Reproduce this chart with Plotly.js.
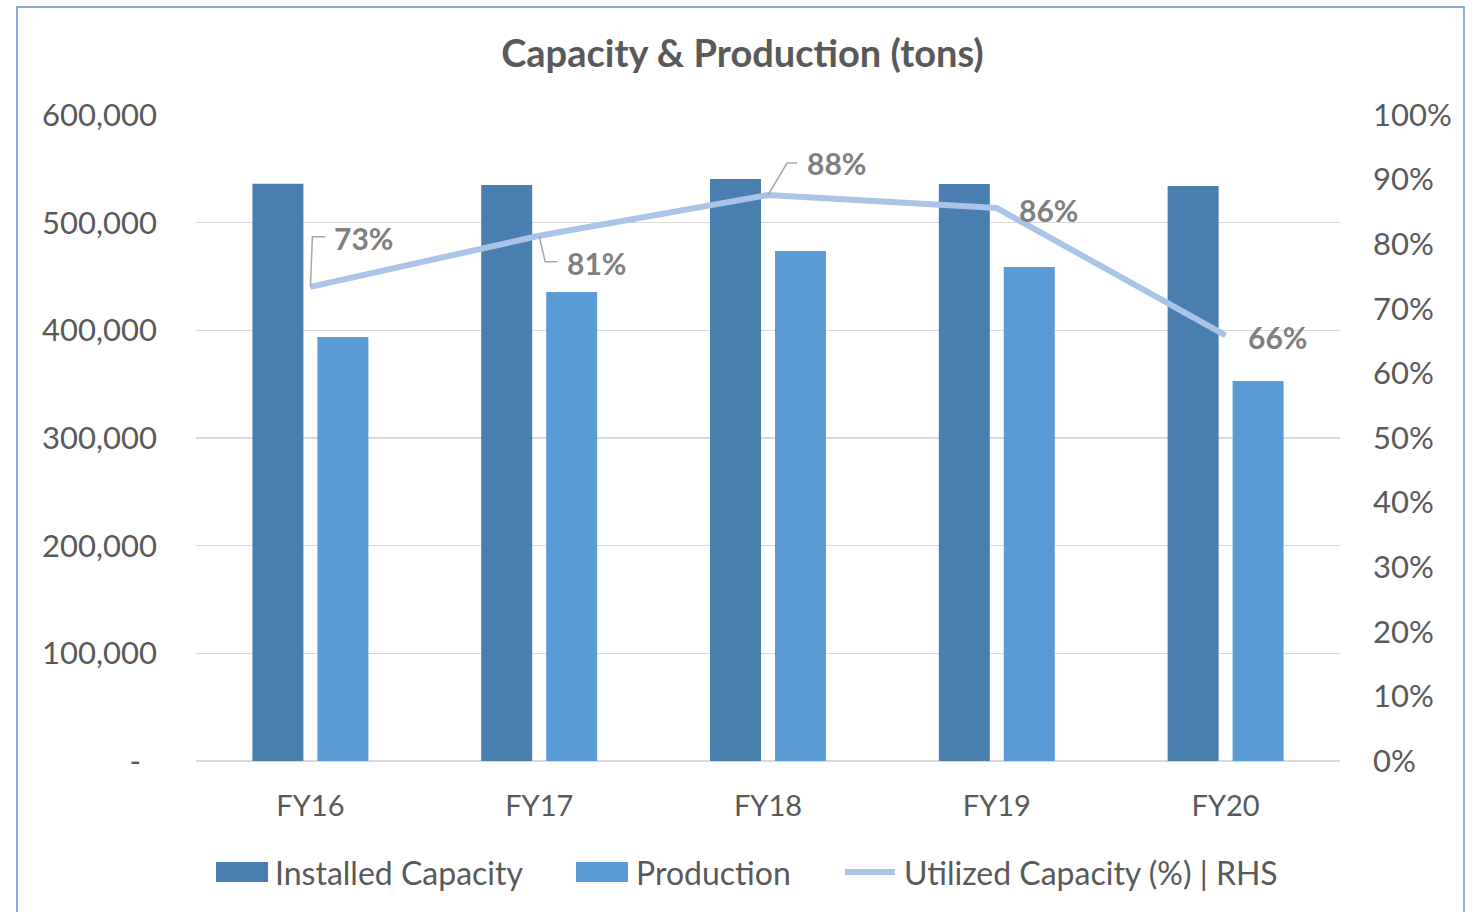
<!DOCTYPE html>
<html>
<head>
<meta charset="utf-8">
<script src="https://cdn.plot.ly/plotly-3.0.1.min.js"></script>
<style>
html,body{margin:0;padding:0;background:#fff;}
#wrap{position:relative;width:1479px;height:912px;overflow:hidden;}
#chart{width:1479px;height:912px;}
#frame{position:absolute;left:16px;top:6px;width:1449px;height:920px;border:2px solid #8EAADB;pointer-events:none;box-sizing:border-box;}
</style>
</head>
<body>
<div id="wrap"><div id="chart"></div><div id="frame"></div></div>
<script>
const categories = ["FY16", "FY17", "FY18", "FY19", "FY20"];
const installedCapacity = [536200, 535000, 540600, 535900, 534000];
const production = [393800, 435600, 473700, 458800, 352900];
const utilization = [0.734, 0.813, 0.876, 0.856, 0.659];
const utilLabels = ["73%", "81%", "88%", "86%", "66%"];
const leftTickVals = [0, 100000, 200000, 300000, 400000, 500000, 600000];
const leftTickText = ["-\u00a0\u00a0", "100,000", "200,000", "300,000", "400,000", "500,000", "600,000"];
const seriesNames = ["Installed Capacity", "Production", "Utilized Capacity (%) | RHS"];

const FONT = "Lato, 'Open Sans', sans-serif";
const C_INST = "#4A7EAF", C_PROD = "#5B9BD5", C_LINE = "#A9C4E6";

// plot area in pixels
const PL = 196, PR = 1340, PT = 115, PB = 761;
const px2x = p => (p - PL) / (PR - PL);
const py2y = p => (PB - p) / (PB - PT);

// label offsets (pixels, y up) and elbow leader paths (pixels relative to point)
const labelOffsets = [[53,49],[57,-27],[68,32],[52,-2],[52,-2]];
const leaderPaths = ["M0,0L2,50L15,50", "M0,0L6,-26L18,-26", "M0,0L19,32L29,32", null, null];

const traces = [
  {type:"bar", name:seriesNames[0], x:categories, y:installedCapacity, marker:{color:C_INST}},
  {type:"bar", name:seriesNames[1], x:categories, y:production, marker:{color:C_PROD}},
  {type:"scatter", mode:"lines", name:seriesNames[2], x:categories, y:utilization,
   yaxis:"y2", line:{color:C_LINE, width:6}}
];

const annotations = utilLabels.map((t,i)=>({
  x:categories[i], y:utilization[i], xref:"x", yref:"y2", text:"<b>"+t+"</b>",
  showarrow:false, xshift:labelOffsets[i][0], yshift:labelOffsets[i][1],
  xanchor:"center", yanchor:"middle",
  font:{family:FONT, size:30, color:"#7F7F7F"}
}));

const shapes = [];
leaderPaths.forEach((p,i)=>{
  if(!p) return;
  shapes.push({type:"path", xref:"x", yref:"y2", xsizemode:"pixel", ysizemode:"pixel",
    xanchor:i, yanchor:utilization[i], path:p, line:{color:"#A6A6A6", width:1.5}, layer:"above"});
});

// custom legend (swatches + texts)
const legendY = py2y(872);
shapes.push({type:"rect", xref:"paper", yref:"paper", x0:px2x(216), x1:px2x(268), y0:py2y(882), y1:py2y(862),
  fillcolor:C_INST, line:{width:0}});
shapes.push({type:"rect", xref:"paper", yref:"paper", x0:px2x(576), x1:px2x(628), y0:py2y(882), y1:py2y(862),
  fillcolor:C_PROD, line:{width:0}});
shapes.push({type:"line", xref:"paper", yref:"paper", x0:px2x(845), x1:px2x(895), y0:legendY, y1:legendY,
  line:{color:C_LINE, width:6}});
[[273,0],[634,1],[902,2]].forEach(([p,i])=>{
  annotations.push({xref:"paper", yref:"paper", x:px2x(p), y:legendY, xanchor:"left", yanchor:"middle",
    showarrow:false, text:seriesNames[i], font:{family:FONT, size:32, color:"#595959"}});
});

const layout = {
  width:1479, height:912,
  margin:{l:PL, r:1479-PR, t:PT, b:912-PB},
  paper_bgcolor:"#fff", plot_bgcolor:"#fff",
  font:{family:FONT, color:"#595959"},
  title:{text:"<b>Capacity & Production (tons)</b>", x:0.502, xanchor:"center", y:0.941, yanchor:"middle",
         font:{family:FONT, size:38, color:"#595959"}},
  barmode:"group", bargap:0.432, bargroupgap:0.215,
  showlegend:false,
  xaxis:{type:"category", showgrid:false, showline:false, zeroline:false, ticks:"",
         tickfont:{family:FONT, size:29, color:"#595959"}, ticklabelstandoff:25},
  yaxis:{range:[0,600000], tickvals:leftTickVals, ticktext:leftTickText,
         showgrid:true, gridcolor:"#D9D9D9", gridwidth:1.5, zeroline:true, zerolinecolor:"#D9D9D9", zerolinewidth:1.5,
         showline:false, ticks:"", tickfont:{family:FONT, size:31, color:"#595959"}, ticklabelstandoff:38},
  yaxis2:{range:[0,1], overlaying:"y", side:"right", dtick:0.1, tickformat:".0%",
          showgrid:false, zeroline:false, showline:false, ticks:"",
          tickfont:{family:FONT, size:31, color:"#595959"}, ticklabelstandoff:32},
  annotations:annotations,
  shapes:shapes
};

Plotly.newPlot("chart", traces, layout, {displayModeBar:false, staticPlot:true});
</script>
</body>
</html>
